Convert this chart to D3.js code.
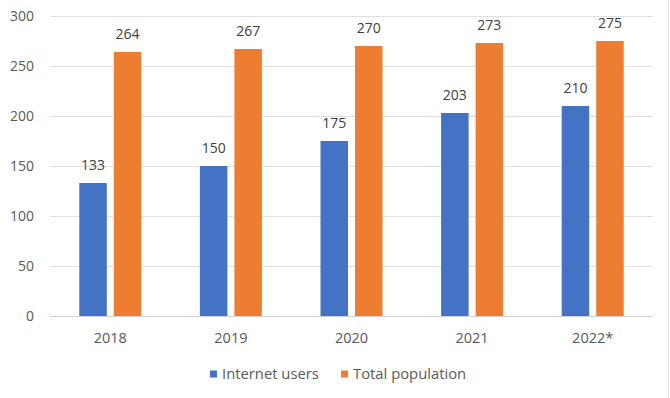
<!DOCTYPE html>
<html>
<head>
<meta charset="utf-8">
<script src="https://cdn.jsdelivr.net/npm/d3@7"></script>
<style>
  body { margin: 0; background: #fff; }
  svg { font-family: "Open Sans", "Liberation Sans", sans-serif; }
</style>
</head>
<body>
<div id="chart"></div>
<script>
// chart data
const years = ['2018', '2019', '2020', '2021', '2022*'];
const internetUsers = [133, 150, 175, 203, 210];
const totalPopulation = [264, 267, 270, 273, 275];
const seriesNames = ['Internet users', 'Total population'];
const seriesColors = ['#4472C4', '#ED7D31'];
const yTicks = [0, 50, 100, 150, 200, 250, 300];

const width = 670;
const height = 398;
const margin = { top: 16, right: 17, bottom: 82, left: 50 };

const svg = d3.select('#chart')
	.append('svg')
	.attr('width', width)
	.attr('height', height);

// outer frame line on the right like the screenshot
svg.append('line')
	.attr('x1', 668.5).attr('x2', 668.5)
	.attr('y1', 0).attr('y2', height)
	.attr('stroke', '#e6e6e6');

const x = d3.scaleBand()
	.domain(years)
	.range([margin.left, width - margin.right]);

const y = d3.scaleLinear()
	.domain([0, 300])
	.range([height - margin.bottom, margin.top]);

// gridlines
svg.append('g')
	.selectAll('line')
	.data(yTicks)
	.join('line')
	.attr('x1', margin.left)
	.attr('x2', width - margin.right)
	.attr('y1', (d) => Math.round(y(d)) + 0.5)
	.attr('y2', (d) => Math.round(y(d)) + 0.5)
	.attr('stroke', (d) => (d === 0 ? '#d0d0d0' : '#e0e0e0'))
	.attr('stroke-width', 1);

// y tick labels
svg.append('g')
	.selectAll('text')
	.data(yTicks)
	.join('text')
	.attr('x', 34)
	.attr('y', (d) => y(d))
	.attr('dy', '0.35em')
	.attr('text-anchor', 'end')
	.attr('fill', '#595959')
	.attr('font-size', 14)
	.text((d) => d);

// x labels
svg.append('g')
	.selectAll('text')
	.data(years)
	.join('text')
	.attr('x', (d) => x(d) + x.bandwidth() / 2)
	.attr('y', 338)
	.attr('dy', '0.35em')
	.attr('text-anchor', 'middle')
	.attr('fill', '#595959')
	.attr('font-size', 14.5)
	.text((d) => d);

// bars, two per year
const barWidth = 27.5;
const barGap = 7;
const dataset = [];
years.forEach((yr, i) => {
	[internetUsers[i], totalPopulation[i]].forEach((v, s) => {
		const center = x(yr) + x.bandwidth() / 2;
		const offset = s === 0 ? -barGap / 2 - barWidth : barGap / 2;
		dataset.push({ year: yr, value: v, series: s, x: center + offset });
	});
});

svg.append('g')
	.selectAll('rect')
	.data(dataset)
	.join('rect')
	.attr('x', (d) => d.x)
	.attr('y', (d) => y(d.value))
	.attr('width', barWidth)
	.attr('height', (d) => y(0) - y(d.value))
	.attr('fill', (d) => seriesColors[d.series]);

// value labels
svg.append('g')
	.selectAll('text')
	.data(dataset)
	.join('text')
	.attr('x', (d) => d.x + barWidth / 2)
	.attr('y', (d) => y(d.value) - 18)
	.attr('dy', '0.35em')
	.attr('text-anchor', 'middle')
	.attr('fill', '#404040')
	.attr('font-size', 14)
	.text((d) => d.value);

// legend
const legendX = [210, 341];
const legend = svg.append('g')
	.selectAll('g')
	.data(seriesNames)
	.join('g')
	.attr('transform', (d, i) => `translate(${legendX[i]},374)`);

legend.append('rect')
	.attr('x', 0)
	.attr('y', -3.5)
	.attr('width', 7)
	.attr('height', 7)
	.attr('fill', (d, i) => seriesColors[i]);

legend.append('text')
	.attr('x', 12)
	.attr('y', 0)
	.attr('dy', '0.35em')
	.attr('fill', '#595959')
	.attr('font-size', 14.8)
	.text((d) => d);
</script>
</body>
</html>
